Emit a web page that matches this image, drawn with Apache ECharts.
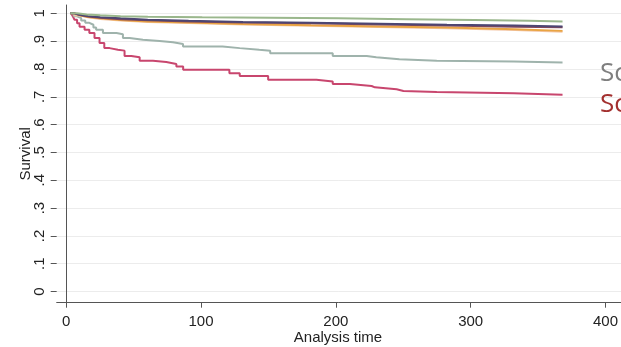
<!DOCTYPE html>
<html>
<head>
<meta charset="utf-8">
<script src="https://cdn.jsdelivr.net/npm/echarts@6/dist/echarts.min.js"></script>
<style>
html,body{margin:0;padding:0;background:#fff;overflow:hidden;}
#c{width:621px;height:347px;}
</style>
</head>
<body>
<div id="c"></div>
<script>
// Tick values / labels
var yTicks = [0, 0.1, 0.2, 0.3, 0.4, 0.5, 0.6, 0.7, 0.8, 0.9, 1];
var yTickLabels = ['0', '.1', '.2', '.3', '.4', '.5', '.6', '.7', '.8', '.9', '1'];
var xTicks = [0, 100, 200, 300, 400];
var xTitle = 'Analysis time';
var yTitle = 'Survival';

// Kaplan-Meier step curves: [time, survival]
var greenCurve = [[3,1],[8,0.996],[15,0.993],[25,0.990],[40,0.988],[60,0.986],[100,0.984],[150,0.982],[200,0.979],[250,0.976],[300,0.973],[340,0.971],[365,0.970]];
var navyCurve = [[3,1],[6,0.995],[10,0.990],[16,0.986],[25,0.982],[40,0.977],[60,0.973],[90,0.969],[130,0.966],[180,0.963],[230,0.959],[280,0.956],[330,0.953],[365,0.953]];
var maroonCurve = [[3,1],[6,0.994],[10,0.989],[16,0.984],[25,0.979],[40,0.975],[60,0.971],[90,0.967],[130,0.964],[180,0.960],[230,0.956],[280,0.952],[330,0.950],[365,0.950]];
var orangeCurve = [[3,1],[6,0.993],[10,0.987],[16,0.982],[25,0.976],[40,0.971],[60,0.967],[90,0.962],[130,0.957],[180,0.953],[230,0.949],[280,0.943],[330,0.937],[365,0.936]];
var peachCurve = [[3,1],[6,0.992],[10,0.986],[16,0.980],[25,0.974],[40,0.969],[60,0.965],[90,0.960],[130,0.955],[180,0.951],[230,0.946],[280,0.940],[330,0.934],[365,0.933]];
var tealCurve = [[3.7,1],[5.5,0.99],[7.4,0.983],[11,0.974],[14,0.966],[17,0.959],[20,0.949],[22,0.941],[27,0.929],[37,0.925],[41.7,0.911],[46.6,0.905],[56.4,0.901],[68.7,0.896],[78.5,0.890],[85.9,0.881],[115,0.875],[127.6,0.869],[142,0.866],[150,0.857],[196,0.847],[221,0.842],[228,0.835],[245,0.830],[272.5,0.827],[329,0.823],[365,0.823]];
var crimsonCurve = [[3.7,1],[5,0.988],[6.1,0.977],[8,0.964],[9.8,0.952],[13.5,0.941],[17,0.929],[20.8,0.911],[24.5,0.893],[28,0.875],[31.9,0.869],[38,0.866],[42.9,0.847],[47.9,0.842],[54,0.830],[63.8,0.825],[73.6,0.818],[81,0.809],[86,0.797],[120,0.785],[127.6,0.775],[148.5,0.761],[184,0.755],[196,0.746],[208.6,0.739],[224.6,0.734],[227,0.727],[243,0.721],[248,0.717],[272.5,0.713],[329,0.707],[365,0.707]];

var sideTexts = ['Sc', 'Sc'];

function mk(data, color, w) {
  return {type:'line', step:'end', data:data, showSymbol:false, symbol:'none',
    xAxisIndex:0, yAxisIndex:0,
    lineStyle:{color:color, width:w}, animation:false, z:3};
}

var series = [
  mk(crimsonCurve, '#c8466e', 2),
  mk(tealCurve, '#9fb3ac', 2),
  mk(peachCurve, '#f3c7a8', 2),
  mk(orangeCurve, '#e9a443', 2),
  mk(maroonCurve, '#84485a', 2),
  mk(navyCurve, '#4d4672', 2),
  mk(greenCurve, '#9ab78c', 2)
];

// geometry: main plot grid, plus aligned grids carrying ticks/labels
var L = 56.7, T = 5, B = 44.3, W = 621;
var xMin = -7, xMax = 408, yMin = -0.04, yMax = 1.03;
var plotW = W - L, plotH = 347 - T - B;
var px0 = L + (0 - xMin) / (xMax - xMin) * plotW;
var px400 = L + (400 - xMin) / (xMax - xMin) * plotW;
var py1 = T + (yMax - 1) / (yMax - yMin) * plotH;
var py0 = T + (yMax - 0) / (yMax - yMin) * plotH;

var font = 'Liberation Sans';
var chart = echarts.init(document.getElementById('c'), null, {renderer:'canvas'});
chart.setOption({
  backgroundColor:'#fff',
  animation:false,
  grid:[
    {left:L, right:0, top:T, bottom:B},
    {left:L, right:0, top:py1, bottom:347 - py0},
    {left:px0, right:W - px400, top:T, bottom:B}
  ],
  xAxis:[
    {type:'value', gridIndex:0, min:xMin, max:xMax,
      axisLine:{onZero:false, lineStyle:{color:'#555', width:1}},
      axisTick:{show:false}, axisLabel:{show:false}, splitLine:{show:false}},
    {type:'value', gridIndex:1, min:0, max:1, show:false},
    {type:'value', gridIndex:2, min:0, max:400, interval:100,
      axisLine:{show:false},
      axisTick:{show:true, length:5, lineStyle:{color:'#555'}},
      axisLabel:{fontFamily:font, fontSize:15, color:'#222', margin:12},
      splitLine:{show:false}}
  ],
  yAxis:[
    {type:'value', gridIndex:0, min:yMin, max:yMax,
      name:yTitle, nameLocation:'middle', nameGap:23, nameRotate:90,
      nameTextStyle:{fontFamily:font, fontSize:15, color:'#222'},
      axisLine:{show:true, lineStyle:{color:'#555', width:1}},
      axisTick:{show:false}, axisLabel:{show:false}, splitLine:{show:false}},
    {type:'value', gridIndex:1, min:0, max:1, interval:0.1,
      axisLine:{show:false},
      axisTick:{show:true, length:6, lineStyle:{color:'#555'}},
      axisLabel:{fontFamily:font, fontSize:15, color:'#222', margin:9, rotate:90,
        formatter:function(v){
          var i = yTicks.findIndex(function(t){return Math.abs(t-v)<1e-6;});
          return i>=0 ? yTickLabels[i] : '';
        }},
      splitLine:{show:true, lineStyle:{color:'#ececec', width:1}}},
    {type:'value', gridIndex:2, min:0, max:1, show:false}
  ],
  graphic:[
    {type:'text', z:10, style:{x:338, y:338, text:xTitle, font:'15px "Liberation Sans"', fill:'#222', align:'center', verticalAlign:'middle'}},
    {type:'text', z:10, style:{x:600, y:73.5, text:sideTexts[0], font:'26px "Open Sans"', fill:'#7f7f7f', verticalAlign:'middle'}},
    {type:'text', z:10, style:{x:600, y:105, text:sideTexts[1], font:'26px "Open Sans"', fill:'#a3302f', verticalAlign:'middle'}}
  ],
  series:series
});
</script>
</body>
</html>
